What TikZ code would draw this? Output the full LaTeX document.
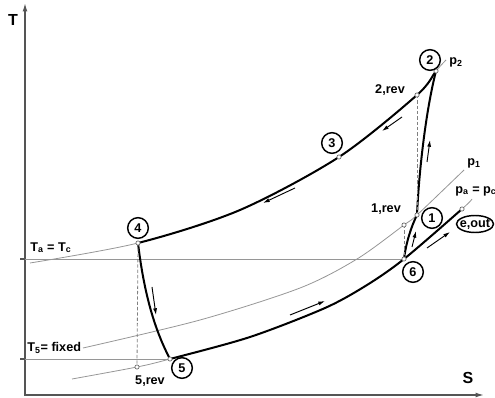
\documentclass[tikz,border=0pt]{standalone}
\usepackage{fontspec}
\setmainfont{Liberation Sans}
\usetikzlibrary{arrows.meta,shapes.geometric}
\definecolor{isobar}{RGB}{150,150,150}
\definecolor{axisgray}{RGB}{85,85,85}

\begin{document}
\begin{tikzpicture}[x=0.75pt, y=-0.75pt, >={Latex[length=7pt,width=3.5pt]},
    font=\fontsize{9.5}{11}\selectfont\bfseries,
    iso/.style={isobar, line width=0.6pt},
    cyc/.style={black, line width=1.5pt},
    state/.style={circle, draw, line width=1.1pt, inner sep=0pt, minimum size=15.5pt},
    dot/.style={circle, draw=gray!80!black, fill=white, line width=0.5pt, inner sep=0pt, minimum size=3.2pt},
    flow/.style={-{Latex[length=5pt,width=3pt]}, line width=0.7pt},
    rev/.style={dashed, dash pattern=on 2.5pt off 1.5pt, gray, line width=0.6pt}]
  \useasboundingbox (0,0) rectangle (495,398);

  % axes
  \coordinate (O) at (25,395);
  \coordinate (Ttop) at (25,2);
  \coordinate (Send) at (485,395);
  \draw[axisgray, line width=1.3pt, <->] (Ttop) -- (O) -- (Send);
  \foreach \y in {259,359} {
    \draw[axisgray, line width=0.8pt] (20,\y) -- (25,\y);
  }
  \node[font=\fontsize{12}{14}\selectfont\bfseries] (nT) at (13,20) {T};
  \node[font=\fontsize{12}{14}\selectfont\bfseries] (nS) at (468,378) {S};

  % state points
  \coordinate (s4) at (138,243);
  \coordinate (s3) at (339,157);
  \coordinate (s2r) at (417,95);
  \coordinate (s2) at (436,71);
  \coordinate (s1) at (417,215);
  \coordinate (s1r) at (404,225);
  \coordinate (s6) at (404,259);
  \coordinate (se) at (462,209);
  \coordinate (s5) at (170,359);
  \coordinate (s5r) at (137,367);

  % isotherms
  \draw[iso] (25,259) -- (s6);
  \draw[iso] (25,359) -- (s5);

  % isobars
  \draw[iso] plot[smooth] coordinates {(30,263) (s4) (240,210) (s3) (s2r) (s2) (446,60)};
  \draw[iso] plot[smooth] coordinates {(83,348) (200,320) (300,288) (357,259) (s1r) (s1) (464,170)};
  \draw[iso] plot[smooth] coordinates {(72,379) (s5r) (s5) (250,337) (325,308) (367,285) (s6) (se) (472,199)};

  % cycle
  \begin{scope}
    \clip (138,0) rectangle (436,398);
    \draw[cyc] plot[smooth] coordinates {(30,263) (s4) (240,210) (s3) (s2r) (s2) (446,60)};
  \end{scope}
  \begin{scope}
    \clip (170,0) rectangle (462,398);
    \draw[cyc] plot[smooth] coordinates {(72,379) (s5r) (s5) (250,337) (325,308) (367,285) (s6) (se) (472,199)};
  \end{scope}
  \draw[cyc] (s4) .. controls (143,285) and (152,325) .. (s5);
  \draw[cyc] (s6) .. controls (406,243) and (411,227) .. (s1);
  \draw[cyc] (s1) .. controls (419,170) and (426,110) .. (s2);

  % reversible references
  \draw[rev] (s4) -- (s5r);
  \draw[rev] (s2r) -- (s1);
  \draw[rev] (s1r) -- (s6);

  % flow direction
  \foreach \xa/\ya/\xb/\yb in {402/117/382/131, 295/188/263/203, 152/287/156/315,
      290/315/325/301, 412/247/416/231, 427/162/430/140, 427/248/450/232} {
    \draw[flow] (\xa,\ya) -- (\xb,\yb);
  }

  \foreach \p in {s1,s1r,s2,s2r,s3,s4,s5,s5r,s6,se} {
    \node[dot] (d-\p) at (\p) {};
  }

  % labels
  \node[state] (n1) at (432,218) {1};
  \node[state] (n2) at (430,60) {2};
  \node[state] (n3) at (332,143) {3};
  \node[state] (n4) at (138,228) {4};
  \node[state] (n5) at (182,368) {5};
  \node[state] (n6) at (413,272) {6};
  \node[inner sep=0pt] (nout) at (475,224) {e,out};
  \draw[line width=1.1pt] (nout.center) ellipse (18.5 and 8.5);
  \node (n2r) at (390,90) {2,rev};
  \node (n1r) at (386,209) {1,rev};
  \node (n5r) at (150,381) {5,rev};
  \node (np2) at (456,62) {p\textsubscript{2}};
  \node (np1) at (474,163) {p\textsubscript{1}};
  \node (npa) at (476,191) {p\textsubscript{a} = p\textsubscript{c}};
  \node[anchor=west, inner sep=0pt] (nTa) at (30,248) {T\textsubscript{a} = T\textsubscript{c}};
  \node[anchor=west, inner sep=0pt] (nT5) at (27,348) {T\textsubscript{5}= fixed};
\end{tikzpicture}
\end{document}
